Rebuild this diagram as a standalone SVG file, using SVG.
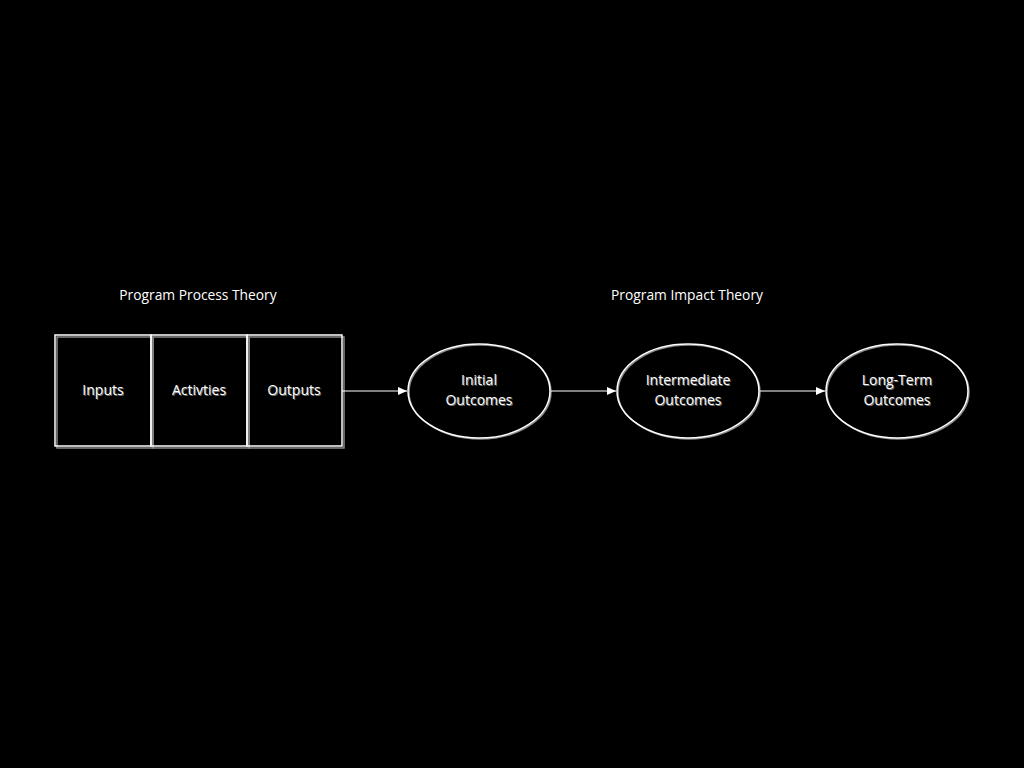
<svg xmlns="http://www.w3.org/2000/svg" width="1024" height="768" viewBox="0 0 1024 768">
<defs>
<style>
.t{font-family:"Open Sans","Liberation Sans",sans-serif;font-size:14px;text-anchor:middle;fill:#ffffff}
.ts{font-family:"Open Sans","Liberation Sans",sans-serif;font-size:14px;text-anchor:middle;fill:#6e6e6e}
.h{font-family:"Open Sans","Liberation Sans",sans-serif;font-size:13.8px;text-anchor:middle;fill:#ffffff}
.s{fill:none;stroke:#ffffff;stroke-width:1.5}
.sh{fill:none;stroke:#888888;stroke-width:1.5}
.c{fill:none;stroke:#ffffff;stroke-width:1.2}
</style>
<marker id="ah" markerWidth="10" markerHeight="8" refX="9" refY="4" orient="auto" markerUnits="userSpaceOnUse">
<path d="M0,0 L9,4 L0,8 Z" fill="#ffffff"/>
</marker>
</defs>
<rect width="1024" height="768" fill="#000000"/>
<text class="h" x="198" y="300">Program Process Theory</text>
<text class="h" x="687" y="300">Program Impact Theory</text>
<g id="inputs">
<rect class="sh" x="57" y="337" width="96" height="111"/>
<rect class="s" x="55" y="335" width="96" height="111"/>
<text class="ts" x="104" y="396">Inputs</text>
<text class="t" x="103" y="395">Inputs</text>
</g>
<g id="activities">
<rect class="sh" x="153" y="337" width="96" height="111"/>
<rect class="s" x="151" y="335" width="96" height="111"/>
<text class="ts" x="200" y="396">Activties</text>
<text class="t" x="199" y="395">Activties</text>
</g>
<g id="outputs">
<rect class="sh" x="249" y="337" width="95" height="111"/>
<rect class="s" x="247" y="335" width="95" height="111"/>
<text class="ts" x="295" y="396">Outputs</text>
<text class="t" x="294" y="395">Outputs</text>
</g>
<g id="initial">
<ellipse class="sh" cx="480" cy="392" rx="71" ry="47"/>
<ellipse class="s" cx="479" cy="391" rx="71" ry="47"/>
<text class="ts" x="480" y="386">Initial</text>
<text class="t" x="479" y="385">Initial</text>
<text class="ts" x="480" y="406">Outcomes</text>
<text class="t" x="479" y="405">Outcomes</text>
</g>
<g id="intermediate">
<ellipse class="sh" cx="689" cy="392" rx="71" ry="47"/>
<ellipse class="s" cx="688" cy="391" rx="71" ry="47"/>
<text class="ts" x="689" y="386">Intermediate</text>
<text class="t" x="688" y="385">Intermediate</text>
<text class="ts" x="689" y="406">Outcomes</text>
<text class="t" x="688" y="405">Outcomes</text>
</g>
<g id="longterm">
<ellipse class="sh" cx="898" cy="392" rx="71" ry="47"/>
<ellipse class="s" cx="897" cy="391" rx="71" ry="47"/>
<text class="ts" x="898" y="386">Long-Term</text>
<text class="t" x="897" y="385">Long-Term</text>
<text class="ts" x="898" y="406">Outcomes</text>
<text class="t" x="897" y="405">Outcomes</text>
</g>
<g id="connectors">
<line class="c" x1="342" y1="391" x2="407" y2="391" marker-end="url(#ah)"/>
<line class="c" x1="551" y1="391" x2="616" y2="391" marker-end="url(#ah)"/>
<line class="c" x1="760" y1="391" x2="825" y2="391" marker-end="url(#ah)"/>
</g>
</svg>
